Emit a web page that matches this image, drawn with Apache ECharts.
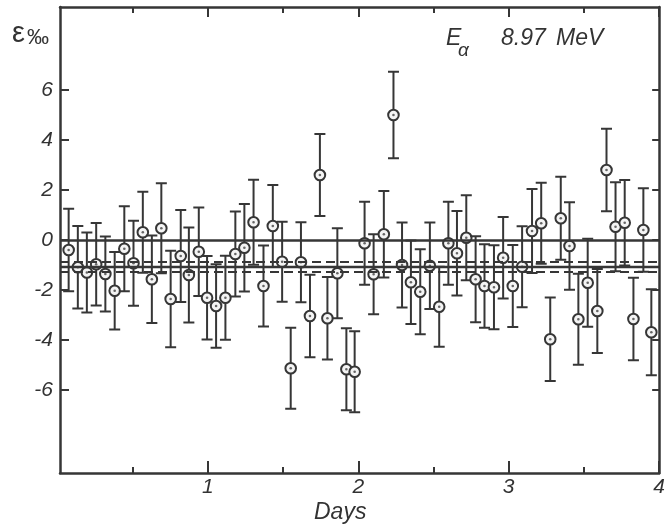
<!DOCTYPE html>
<html><head><meta charset="utf-8">
<script src="https://cdn.jsdelivr.net/npm/echarts@6/dist/echarts.min.js"></script>
<style>html,body{margin:0;padding:0;background:#fff}#c{width:668px;height:530px}</style>
</head><body><div id="c"></div>
<script>
// Time of measurement (days)
const days = [0.075,0.136,0.196,0.258,0.319,0.381,0.445,0.506,0.568,0.628,
  0.691,0.753,0.820,0.874,0.940,0.995,1.055,1.117,1.183,1.243,
  1.304,1.370,1.432,1.494,1.551,1.619,1.679,1.745,1.795,1.861,
  1.921,1.976,2.042,2.102,2.170,2.234,2.291,2.350,2.412,2.476,
  2.538,2.599,2.656,2.718,2.780,2.839,2.902,2.963,3.027,3.089,
  3.155,3.216,3.276,3.346,3.404,3.463,3.525,3.589,3.650,3.710,
  3.771,3.829,3.895,3.948];
// Relative deviation epsilon (per mille)
const epsilon = [-0.40,-1.09,-1.30,-0.97,-1.36,-2.03,-0.35,-0.93,0.31,-1.57,
  0.47,-2.36,-0.64,-1.40,-0.47,-2.31,-2.64,-2.31,-0.56,-0.31,
  0.71,-1.84,0.56,-0.87,-5.13,-0.89,-3.04,2.60,-3.13,-1.33,
  -5.17,-5.27,-0.13,-1.37,0.23,5.00,-1.00,-1.69,-2.07,-1.03,
  -2.67,-0.13,-0.53,0.09,-1.57,-1.84,-1.89,-0.71,-1.84,-1.07,
  0.36,0.67,-3.97,0.87,-0.24,-3.17,-1.71,-2.84,2.80,0.53,
  0.69,-3.16,0.40,-3.69];
// Error bar half-lengths (per mille)
const errors = [1.65,1.65,1.60,1.65,1.50,1.55,1.70,1.70,1.62,1.75,
  1.80,1.93,1.84,1.90,1.77,1.67,1.67,1.68,1.70,1.75,
  1.70,1.62,1.64,1.60,1.62,1.60,1.65,1.64,1.65,1.80,
  1.64,1.62,1.66,1.60,1.73,1.73,1.70,1.67,1.70,1.73,
  1.60,1.66,1.69,1.70,1.72,1.67,1.68,1.63,1.64,1.62,
  1.68,1.62,1.67,1.66,1.75,1.82,1.76,1.68,1.65,1.78,
  1.71,1.65,1.67,1.72];
const yTickValues = [-6,-4,-2,0,2,4,6];
const xMajorTicks = [1,2,3,4];
const xMinorTicks = [0.5,1.5,2.5,3.5];
const zeroLine = 0;
const meanLine = -1.07;
const bandUpper = -0.87;
const bandLower = -1.27;

const INK = '#363636';
const FONT = "'Liberation Sans', Arial, sans-serif";
const X_MIN = 0.0175, X_MAX = 4, Y_MIN = -9.32, Y_MAX = 9.32;

function xAx(position, ticks, len, showLine, labels) {
  return {
    type: 'value', min: X_MIN, max: X_MAX, position: position,
    axisLine: {show: showLine, onZero: false, lineStyle: {color: INK, width: 2.5}},
    axisTick: {show: true, inside: true, length: len, customValues: ticks, lineStyle: {color: INK, width: 2}},
    axisLabel: labels ? {show: true, customValues: labels, color: '#333', fontFamily: FONT,
      fontStyle: 'italic', fontSize: 21, margin: 4} : {show: false},
    splitLine: {show: false}
  };
}
function yAx(position, len, labels) {
  return {
    type: 'value', min: Y_MIN, max: Y_MAX, position: position,
    axisLine: {show: true, onZero: false, lineStyle: {color: INK, width: 2.5}},
    axisTick: {show: true, inside: true, length: len, customValues: yTickValues, lineStyle: {color: INK, width: 2}},
    axisLabel: labels ? {show: true, customValues: yTickValues, color: '#333', fontFamily: FONT,
      fontStyle: 'italic', fontSize: 21, margin: 7} : {show: false},
    splitLine: {show: false}
  };
}

const chart = echarts.init(document.getElementById('c'), null, {renderer: 'canvas'});
chart.setOption({
  animation: false,
  backgroundColor: '#fff',
  grid: {left: 60, right: 4, top: 7, bottom: 57, containLabel: false},
  xAxis: [
    xAx('bottom', xMajorTicks, 12, true, xMajorTicks),
    xAx('bottom', xMinorTicks, 6, false, null),
    xAx('top', xMajorTicks, 10, true, null),
    xAx('top', xMinorTicks, 6, false, null)
  ],
  yAxis: [yAx('left', 9, true), yAx('right', 7, false)],
  graphic: [
    {type: 'text', left: 12, top: 19, style: {text: 'ε', font: '29px ' + FONT, fill: '#333'}},
    {type: 'text', left: 27, top: 27, style: {text: '‰', font: '22px ' + FONT, fill: '#333'}},
    {type: 'text', left: 446, top: 27, style: {text: 'E', font: 'italic 23px ' + FONT, fill: '#333'}},
    {type: 'text', left: 458, top: 41, style: {text: 'α', font: 'italic 19px ' + FONT, fill: '#333'}},
    {type: 'text', left: 501, top: 27, style: {text: '8.97', font: 'italic 23px ' + FONT, fill: '#333'}},
    {type: 'text', left: 556, top: 27, style: {text: 'MeV', font: 'italic 23px ' + FONT, fill: '#333'}},
    {type: 'text', left: 314, top: 501, style: {text: 'Days', font: 'italic 23px ' + FONT, fill: '#333'}}
  ],
  series: [
    {
      type: 'line', data: [], z: 1, silent: true,
      markLine: {
        silent: true, symbol: 'none', label: {show: false}, animation: false,
        data: [
          {yAxis: zeroLine, lineStyle: {type: 'solid', color: INK, width: 2.6}},
          {yAxis: meanLine, lineStyle: {type: 'solid', color: INK, width: 2.4}},
          {yAxis: bandUpper, lineStyle: {type: [9, 5], color: INK, width: 1.8}},
          {yAxis: bandLower, lineStyle: {type: [9, 5], color: INK, width: 1.8}}
        ]
      }
    },
    {
      type: 'custom', z: 3,
      data: days.map((d, i) => [d, epsilon[i], errors[i]]),
      renderItem: function (params, api) {
        const x = api.value(0), y = api.value(1), e = api.value(2);
        const c = api.coord([x, y]);
        const t = api.coord([x, y + e]);
        const b = api.coord([x, y - e]);
        const hw = 5.5;
        const ls = {stroke: INK, lineWidth: 2};
        return {
          type: 'group', children: [
            {type: 'line', shape: {x1: c[0], y1: t[1], x2: c[0], y2: b[1]}, style: ls},
            {type: 'line', shape: {x1: c[0] - hw, y1: t[1], x2: c[0] + hw, y2: t[1]}, style: ls},
            {type: 'line', shape: {x1: c[0] - hw, y1: b[1], x2: c[0] + hw, y2: b[1]}, style: ls},
            {type: 'circle', shape: {cx: c[0], cy: c[1], r: 5.3}, style: {fill: '#f4f4f4', stroke: INK, lineWidth: 2}},
            {type: 'circle', shape: {cx: c[0], cy: c[1], r: 1.3}, style: {fill: '#666'}}
          ]
        };
      }
    }
  ]
});
</script>
</body></html>
